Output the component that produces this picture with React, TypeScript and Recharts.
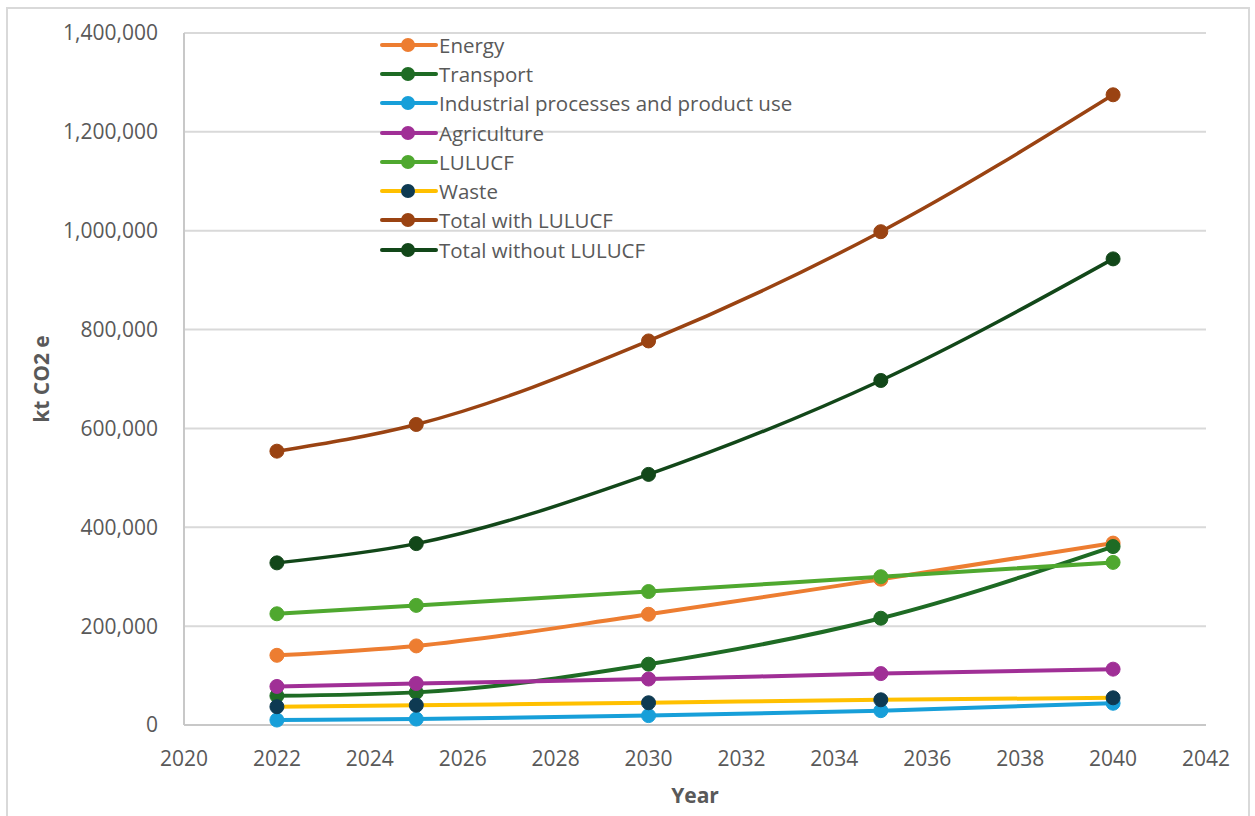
import React from "react";
import {
  LineChart,
  Line,
  XAxis,
  YAxis,
  CartesianGrid,
  Label,
} from "recharts";

// Emission projections by sector, kt CO2 e
const years = [2022, 2025, 2030, 2035, 2040];
const energy = [141000, 160000, 224000, 295000, 368000];
const transport = [59000, 66000, 123000, 216000, 361000];
const industrial = [10000, 12000, 19000, 29000, 44000];
const agriculture = [78000, 84000, 93000, 104000, 113000];
const lulucf = [225000, 242000, 270000, 300000, 329000];
const waste = [37000, 40000, 45000, 51000, 55000];
const totalWith = [554000, 608000, 777000, 998000, 1275000];
const totalWithout = [328000, 367000, 507000, 697000, 943000];

const xTicks = [2020, 2022, 2024, 2026, 2028, 2030, 2032, 2034, 2036, 2038, 2040, 2042];
const yTicks = [0, 200000, 400000, 600000, 800000, 1000000, 1200000, 1400000];

type SeriesDef = {
  key: string;
  name: string;
  values: number[];
  color: string;
  dotColor: string;
  width: number;
};

const series: SeriesDef[] = [
  { key: "energy", name: "Energy", values: energy, color: "#ED7D31", dotColor: "#ED7D31", width: 4 },
  { key: "transport", name: "Transport", values: transport, color: "#1E6B24", dotColor: "#1E6B24", width: 4 },
  { key: "industrial", name: "Industrial processes and product use", values: industrial, color: "#179FD9", dotColor: "#179FD9", width: 4 },
  { key: "agriculture", name: "Agriculture", values: agriculture, color: "#A02F96", dotColor: "#A02F96", width: 4 },
  { key: "lulucf", name: "LULUCF", values: lulucf, color: "#4FA82F", dotColor: "#4FA82F", width: 4 },
  { key: "waste", name: "Waste", values: waste, color: "#FFC000", dotColor: "#0E3A52", width: 4 },
  { key: "totalWith", name: "Total with LULUCF", values: totalWith, color: "#9A4312", dotColor: "#9A4312", width: 3.5 },
  { key: "totalWithout", name: "Total without LULUCF", values: totalWithout, color: "#124719", dotColor: "#124719", width: 3.5 },
];

const data = years.map((year, i) => {
  const row: Record<string, number> = { year };
  series.forEach((s) => {
    row[s.key] = s.values[i];
  });
  return row;
});

const FONT = "'Open Sans', 'DejaVu Sans', sans-serif";
const TEXT = "#595959";

const formatThousands = (v: number) => v.toLocaleString("en-US");

const LegendBox = () => (
  <div
    style={{
      position: "absolute",
      left: 378,
      top: 30,
      fontFamily: FONT,
      fontSize: 20.5,
      color: TEXT,
    }}
  >
    {series.map((s) => (
      <div
        key={s.key}
        style={{ display: "flex", alignItems: "center", height: 29.3 }}
      >
        <svg width={61} height={20} style={{ display: "block" }}>
          <line x1={4} y1={10} x2={58} y2={10} stroke={s.color} strokeWidth={4} strokeLinecap="round" />
          <circle cx={30} cy={10} r={7} fill={s.dotColor} />
        </svg>
        <span style={{ whiteSpace: "nowrap", lineHeight: "20px" }}>{s.name}</span>
      </div>
    ))}
  </div>
);

export default function App() {
  return (
    <div
      style={{
        position: "absolute",
        left: 0,
        top: 0,
        width: 1255,
        height: 816,
        background: "#ffffff",
        overflow: "hidden",
      }}
    >
      <div
        style={{
          position: "absolute",
          left: 6,
          top: 7,
          width: 1244,
          height: 830,
          border: "2px solid #D9D9D9",
          boxSizing: "border-box",
        }}
      />
      <LineChart
        width={1255}
        height={816}
        data={data}
        margin={{ top: 33, right: 49, bottom: 31, left: 84 }}
        style={{ position: "absolute", left: 0, top: 0 }}
      >
        <CartesianGrid
          vertical={false}
          stroke="#D9D9D9"
          strokeWidth={2}
          horizontalValues={yTicks}
        />
        <XAxis
          dataKey="year"
          type="number"
          domain={[2020, 2042]}
          ticks={xTicks}
          interval={0}
          tickLine={false}
          axisLine={{ stroke: "#C8C8C8", strokeWidth: 2 }}
          tick={{ fill: TEXT, fontSize: 21, fontFamily: FONT }}
          tickMargin={20}
          height={60}
        >
          <Label
            value="Year"
            position="insideBottom"
            offset={-18}
            style={{ fill: TEXT, fontSize: 21, fontWeight: 700, fontFamily: FONT }}
          />
        </XAxis>
        <YAxis
          type="number"
          domain={[0, 1400000]}
          ticks={yTicks}
          interval={0}
          tickFormatter={formatThousands}
          tickLine={false}
          axisLine={{ stroke: "#C8C8C8", strokeWidth: 2 }}
          tick={{ fill: TEXT, fontSize: 21, fontFamily: FONT }}
          tickMargin={20}
          width={100}
        >
          <Label
            value="kt CO2 e"
            angle={-90}
            position="insideLeft"
            offset={-42}
            style={{ fill: TEXT, fontSize: 21, fontWeight: 700, fontFamily: FONT, textAnchor: "middle" }}
          />
        </YAxis>
        {series.map((s) => (
          <Line
            key={s.key}
            dataKey={s.key}
            name={s.name}
            type="monotone"
            stroke={s.color}
            strokeWidth={s.width}
            dot={{ r: 7, fill: s.dotColor, stroke: s.dotColor, strokeWidth: 1 }}
            activeDot={false}
            isAnimationActive={false}
          />
        ))}
      </LineChart>
      <LegendBox />
    </div>
  );
}
